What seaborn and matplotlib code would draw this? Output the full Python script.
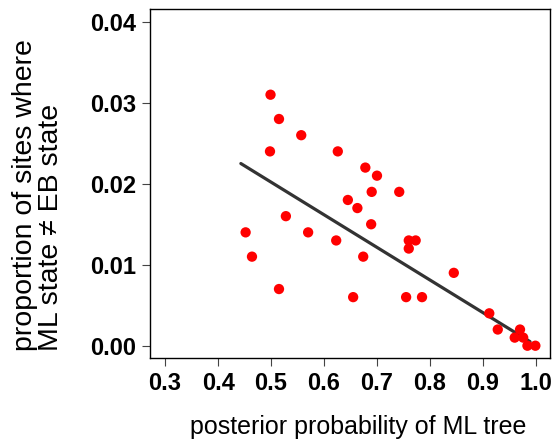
import numpy as np
import pandas as pd
import matplotlib
matplotlib.use("Agg")
import matplotlib.pyplot as plt
import seaborn as sns

# posterior probability of ML tree vs. fraction of sites where ML != EB state
ml_tree_post = [0.452, 0.464, 0.499, 0.498, 0.515, 0.515, 0.528, 0.557, 0.570,
                0.626, 0.623, 0.645, 0.655, 0.663, 0.674, 0.678, 0.689, 0.690,
                0.700, 0.742, 0.755, 0.760, 0.760, 0.773, 0.785, 0.845, 0.912,
                0.928, 0.960, 0.970, 0.976, 0.984, 0.999]
prop_diff = [0.014, 0.011, 0.031, 0.024, 0.028, 0.007, 0.016, 0.026, 0.014,
             0.024, 0.013, 0.018, 0.006, 0.017, 0.011, 0.022, 0.015, 0.019,
             0.021, 0.019, 0.006, 0.013, 0.012, 0.013, 0.006, 0.009, 0.004,
             0.002, 0.001, 0.002, 0.001, 0.000, 0.000]
# fitted trend line as drawn in the figure (end points)
fit_x = [0.443, 0.989]
fit_y = [0.0225, 0.0005]
x_ticks = [0.3, 0.4, 0.5, 0.6, 0.7, 0.8, 0.9, 1.0]
y_ticks = [0.00, 0.01, 0.02, 0.03, 0.04]

df = pd.DataFrame({"post": ml_tree_post, "prop": prop_diff})
fit = pd.DataFrame({"post": fit_x, "prop": fit_y})

sns.set_theme(style="ticks")
plt.rcParams["font.family"] = ["Liberation Sans", "DejaVu Sans"]
plt.rcParams["text.color"] = "black"
plt.rcParams["axes.labelcolor"] = "black"

fig, ax = plt.subplots(figsize=(5.56, 4.44), dpi=100)
fig.subplots_adjust(left=0.27, right=0.989, top=0.98, bottom=0.194)

sns.scatterplot(data=df, x="post", y="prop", color="red", s=55,
                edgecolor="none", ax=ax, zorder=3)
sns.lineplot(data=fit, x="post", y="prop", color="#333333", linewidth=2.3,
             ax=ax, zorder=2)

ax.set_xlim(0.2717, 1.0264)
ax.set_ylim(-0.0015, 0.0416)
ax.set_xticks(x_ticks)
ax.set_xticklabels([f"{t:.1f}" for t in x_ticks], fontsize=17,
                   fontweight="bold", color="black")
ax.set_yticks(y_ticks)
ax.set_yticklabels([f"{t:.2f}" for t in y_ticks], fontsize=17,
                   fontweight="bold", color="black")
ax.tick_params(length=6, width=0.8, color="#444444", pad=4)
for sp in ax.spines.values():
    sp.set_visible(True)
    sp.set_linewidth(1.0)
    sp.set_color("black")

ax.set_xlabel("posterior probability of ML tree", fontsize=18)
ax.xaxis.set_label_coords(0.521, -0.165)
ax.set_ylabel("proportion of sites where\nML state \u2260 EB state", fontsize=20.5,
              linespacing=1.0, multialignment="left")
ax.yaxis.set_label_coords(-0.215, 0.466)

plt.savefig("out.png", dpi=100)
plt.close()
